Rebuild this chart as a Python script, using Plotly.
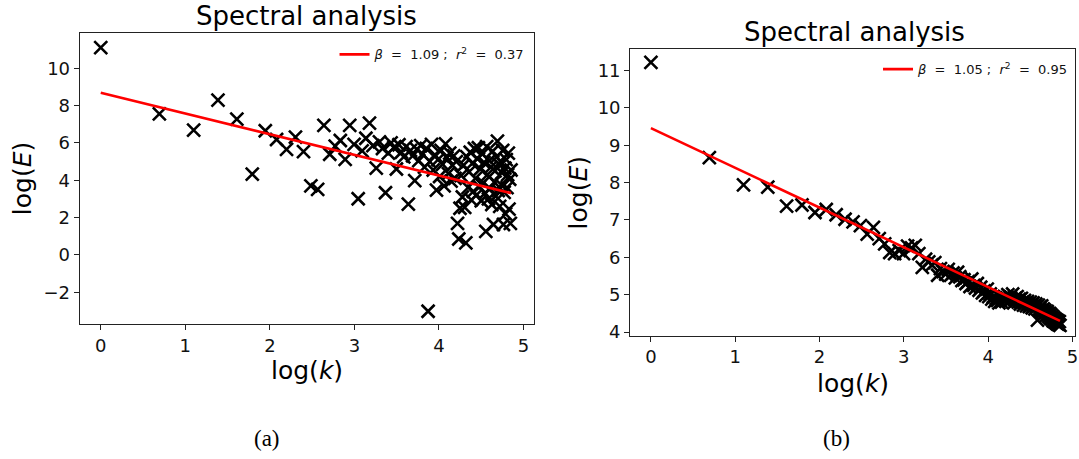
import numpy as np
import plotly.graph_objects as go

# wavenumber index k = 1..128 ; x axis shows log(k)
k_values = list(range(1, 129))

# panel (a): log(E)
logE_a = [
    11.10, 7.55, 6.68, 8.29, 7.27, 4.33, 6.65, 6.18, 5.65, 6.31,
    5.53, 3.70, 3.51, 6.94, 5.39, 5.83, 6.13, 5.12, 6.94, 5.92,
    3.01, 5.57, 6.25, 7.06, 5.85, 4.65, 6.05, 5.70, 3.33, 5.45,
    6.00, 5.75, 4.60, 5.90, 5.50, 5.25, 5.80, 2.72, 5.60, 5.30,
    3.98, 5.65, 5.05, 5.85, 5.40, 4.70, 5.70, -3.02, 5.00, 5.92,
    4.55, 5.35, 3.47, 5.10, 4.20, 5.60, 4.85, 3.70, 5.95, 5.20,
    4.35, 5.45, 3.95, 4.80, 5.30, 4.10, 5.00, 1.69, 0.85, 2.50,
    4.25, 3.10, 4.80, 2.55, 0.64, 5.25, 3.60, 4.45, 5.50, 2.95,
    4.90, 3.40, 5.70, 4.10, 3.20, 5.15, 5.74, 3.65, 4.60, 2.90,
    5.40, 3.85, 4.95, 3.30, 1.26, 5.80, 4.30, 3.00, 5.05, 3.55,
    4.70, 2.70, 5.55, 1.63, 3.90, 4.50, 3.15, 5.25, 6.09, 3.45,
    4.85, 2.60, 5.00, 3.75, 4.40, 5.60, 1.63, 3.35, 4.65, 2.20,
    5.10, 3.60, 4.30, 5.45, 2.45, 4.05, 1.69, 4.55,
]

# panel (b): log(E)
logE_b = [
    11.22, 8.67, 7.94, 7.88, 7.37, 7.40, 7.20, 7.28, 7.14, 7.02,
    6.95, 6.85, 6.62, 6.80, 6.50, 6.36, 6.13, 6.10, 6.18, 6.10,
    6.30, 6.25, 6.32, 6.10, 5.73, 5.95, 5.88, 5.80, 5.86, 5.52,
    5.70, 5.62, 5.55, 5.68, 5.52, 5.58, 5.45, 5.60, 5.48, 5.38,
    5.40, 5.30, 5.35, 5.22, 5.42, 5.25, 5.18, 5.30, 5.12, 5.20,
    5.05, 5.10, 4.98, 5.15, 4.95, 5.02, 4.88, 4.95, 4.82, 4.90,
    4.85, 4.78, 4.92, 4.80, 4.88, 4.95, 4.85, 4.92, 5.00, 4.82,
    4.95, 4.88, 5.02, 4.78, 4.90, 4.85, 4.95, 4.80, 4.88, 4.75,
    4.90, 4.80, 4.72, 4.85, 4.78, 4.70, 4.82, 4.75, 4.68, 4.80,
    4.72, 4.65, 4.78, 4.70, 4.62, 4.75, 4.68, 4.32, 4.72, 4.60,
    4.66, 4.58, 4.70, 4.55, 4.62, 4.50, 4.58, 4.52, 4.45, 4.55,
    4.48, 4.42, 4.50, 4.38, 4.46, 4.35, 4.42, 4.30, 4.38, 4.28,
    4.35, 4.25, 4.32, 4.22, 4.30, 4.20, 4.28, 4.18,
]

# fitted lines (intercept, slope) as drawn in the picture
fit_a = {"intercept": 8.68, "slope": -1.107}
fit_b = {"intercept": 9.46, "slope": -1.064}

legend_a = "<i>β</i>  =  1.09 ;  <i>r</i><sup>2</sup>  =  0.37"
legend_b = "<i>β</i>  =  1.05 ;  <i>r</i><sup>2</sup>  =  0.95"

panel_titles = ["Spectral analysis", "Spectral analysis"]
captions = ["(a)", "(b)"]
x_title = "log(<i>k</i>)"
y_title = "log(<i>E</i>)"
ticks_a_y = [-2, 0, 2, 4, 6, 8, 10]
ticks_b_y = [4, 5, 6, 7, 8, 9, 10, 11]
ticks_x = [0, 1, 2, 3, 4, 5]

W, H = 1079, 459
logk = np.log(np.array(k_values, dtype=float))
x_fit = np.array([logk.min(), logk.max()])

FONT = "DejaVu Sans"

fig = go.Figure()

marker = dict(symbol="x-thin", size=13, color="black",
              line=dict(width=2.6, color="black"))

fig.add_trace(go.Scatter(x=logk, y=logE_a, mode="markers", marker=marker,
                         showlegend=False, xaxis="x", yaxis="y"))
fig.add_trace(go.Scatter(x=x_fit, y=fit_a["intercept"] + fit_a["slope"] * x_fit,
                         mode="lines", line=dict(color="#ff0000", width=2.6),
                         name=legend_a, legend="legend", xaxis="x", yaxis="y"))
fig.add_trace(go.Scatter(x=logk, y=logE_b, mode="markers", marker=marker,
                         showlegend=False, xaxis="x2", yaxis="y2"))
fig.add_trace(go.Scatter(x=x_fit, y=fit_b["intercept"] + fit_b["slope"] * x_fit,
                         mode="lines", line=dict(color="#ff0000", width=2.6),
                         name=legend_b, legend="legend2", xaxis="x2", yaxis="y2"))

def px_x(p):
    return p / W

def px_y(p):
    return 1 - p / H

axis_common = dict(showline=True, mirror=True, linecolor="#222222", linewidth=1.2,
                   ticks="outside", ticklen=5, tickwidth=1, tickcolor="#222222",
                   showgrid=False, zeroline=False, ticklabeloverflow="allow",
                   tickfont=dict(family=FONT, size=18, color="#111111"))

fig.update_layout(
    width=W, height=H,
    margin=dict(l=0, r=0, t=0, b=0),
    paper_bgcolor="white", plot_bgcolor="white",
    xaxis=dict(domain=[px_x(80), px_x(535)], range=[-0.248, 5.118],
               tickvals=ticks_x, anchor="y", **axis_common),
    yaxis=dict(domain=[px_y(329), px_y(34)], range=[-3.70, 11.86],
               tickvals=ticks_a_y, ticktext=[str(v).replace("-", "\u2212") for v in ticks_a_y],
               anchor="x", **axis_common),
    xaxis2=dict(domain=[px_x(632), px_x(1078)], range=[-0.245, 5.03],
                tickvals=ticks_x, anchor="y2", **axis_common),
    yaxis2=dict(domain=[px_y(341), px_y(50)], range=[3.90, 11.57],
                tickvals=ticks_b_y, anchor="x2", **axis_common),
    legend=dict(x=px_x(531), y=px_y(40), xanchor="right", yanchor="top",
                bgcolor="rgba(255,255,255,0.8)", borderwidth=0,
                font=dict(family=FONT, size=13, color="#111111"),
                itemwidth=30, tracegroupgap=0),
    legend2=dict(x=px_x(1076), y=px_y(55), xanchor="right", yanchor="top",
                 bgcolor="rgba(255,255,255,0.8)", borderwidth=0,
                 font=dict(family=FONT, size=13, color="#111111"),
                 itemwidth=30, tracegroupgap=0),
)

annotations = [
    dict(text=panel_titles[0], x=px_x(307.5), y=px_y(16), xref="paper", yref="paper",
         showarrow=False, xanchor="center", yanchor="middle",
         font=dict(family=FONT, size=26, color="black")),
    dict(text=panel_titles[1], x=px_x(857), y=px_y(32), xref="paper", yref="paper",
         showarrow=False, xanchor="center", yanchor="middle",
         font=dict(family=FONT, size=26, color="black")),
    dict(text=x_title, x=px_x(307.5), y=px_y(376), xref="paper", yref="paper",
         showarrow=False, xanchor="center", yanchor="middle",
         font=dict(family=FONT, size=25, color="black")),
    dict(text=x_title, x=px_x(855), y=px_y(389), xref="paper", yref="paper",
         showarrow=False, xanchor="center", yanchor="middle",
         font=dict(family=FONT, size=25, color="black")),
    dict(text=y_title, x=px_x(22.5), y=px_y(181.5), xref="paper", yref="paper",
         showarrow=False, xanchor="center", yanchor="middle", textangle=-90,
         font=dict(family=FONT, size=25, color="black")),
    dict(text=y_title, x=px_x(580), y=px_y(196), xref="paper", yref="paper",
         showarrow=False, xanchor="center", yanchor="middle", textangle=-90,
         font=dict(family=FONT, size=25, color="black")),
    dict(text=captions[0], x=px_x(268), y=px_y(445), xref="paper", yref="paper",
         showarrow=False, xanchor="center", yanchor="middle",
         font=dict(family="Liberation Serif", size=23, color="black")),
    dict(text=captions[1], x=px_x(839), y=px_y(445), xref="paper", yref="paper",
         showarrow=False, xanchor="center", yanchor="middle",
         font=dict(family="Liberation Serif", size=23, color="black")),
]
fig.update_layout(annotations=annotations)

fig.write_html("out.html")
